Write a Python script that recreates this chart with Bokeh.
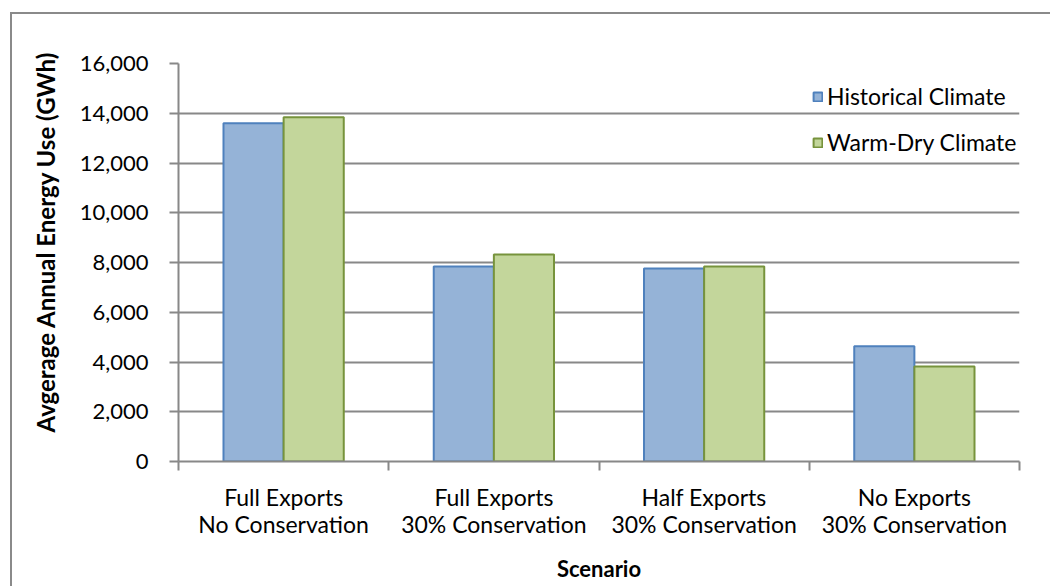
from bokeh.plotting import figure
from bokeh.models import (ColumnDataSource, FixedTicker, NumeralTickFormatter,
                          Legend, LegendItem, Range1d, Title)
from bokeh.transform import dodge
from bokeh.embed import file_html
from bokeh.resources import INLINE

categories = ["Full Exports\nNo Conservation", "Full Exports\n30% Conservation",
              "Half Exports\n30% Conservation", "No Exports\n30% Conservation"]
historical = [13600, 7840, 7760, 4630]
warm_dry = [13840, 8320, 7840, 3820]
y_ticks = [0, 2000, 4000, 6000, 8000, 10000, 12000, 14000, 16000]
series_names = ["Historical Climate", "Warm-Dry Climate"]
x_title = "Scenario"
y_title = "Avgerage Annual Energy Use (GWh)"

FONT = "Lato"
GRID = "#888888"

centers = [i + 0.5 for i in range(len(categories))]
src = ColumnDataSource(dict(x=centers, hist=historical, warm=warm_dry))

p = figure(width=1040, height=574, output_backend="svg", toolbar_location=None,
           x_range=Range1d(0, len(categories)), y_range=Range1d(0, 16000),
           min_border_left=166, min_border_right=33, min_border_top=49,
           min_border_bottom=127)
p.margin = (12, 0, 0, 10)
p.styles = {"border-left": "2px solid #8a8a8a", "border-top": "2px solid #8a8a8a"}
p.outline_line_color = None
p.background_fill_color = "white"
p.border_fill_color = "white"

r1 = p.vbar(x=dodge("x", -0.143, range=p.x_range), top="hist", width=0.286, source=src,
            fill_color="#95B3D7", line_color="#4F81BD", line_width=2)
r2 = p.vbar(x=dodge("x", 0.143, range=p.x_range), top="warm", width=0.286, source=src,
            fill_color="#C3D69B", line_color="#77933C", line_width=2)

# x axis
xa = p.xaxis[0]
xa.ticker = FixedTicker(ticks=centers, minor_ticks=list(range(len(categories) + 1)))
xa.major_label_overrides = {c: lab for c, lab in zip(centers, categories)}
xa.major_tick_out = 0
xa.major_tick_in = 0
xa.minor_tick_out = 9
xa.minor_tick_in = 0
xa.minor_tick_line_color = GRID
xa.minor_tick_line_width = 2
xa.axis_line_color = GRID
xa.axis_line_width = 2
xa.major_label_text_font = FONT
xa.major_label_text_font_size = "23px"
xa.major_label_text_color = "black"
xa.major_label_text_line_height = 0.98
xa.major_label_standoff = 12
xa.axis_label = x_title
xa.axis_label_text_font = FONT
xa.axis_label_text_font_size = "22px"
xa.axis_label_text_font_style = "bold"
xa.axis_label_text_color = "black"
xa.axis_label_standoff = 14

# y axis
ya = p.yaxis[0]
ya.ticker = FixedTicker(ticks=y_ticks)
ya.formatter = NumeralTickFormatter(format="0,0")
ya.major_tick_out = 9
ya.major_tick_in = 0
ya.minor_tick_out = 0
ya.minor_tick_in = 0
ya.major_tick_line_color = GRID
ya.major_tick_line_width = 2
ya.axis_line_color = GRID
ya.axis_line_width = 2
ya.major_label_text_font = FONT
ya.major_label_text_font_size = "22px"
ya.major_label_text_color = "black"
ya.major_label_standoff = 21

ytitle = Title(text=y_title, align="left", offset=29, standoff=33,
               text_font=FONT, text_font_size="24px", text_font_style="bold",
               text_color="black")
p.add_layout(ytitle, "left")

p.xgrid.grid_line_color = None
p.ygrid.grid_line_color = GRID
p.ygrid.grid_line_width = 2

legend = Legend(items=[LegendItem(label=series_names[0], renderers=[r1]),
                       LegendItem(label=series_names[1], renderers=[r2])],
                location=(634, 305), orientation="vertical")
legend.background_fill_alpha = 0
legend.border_line_alpha = 0
legend.label_text_font = FONT
legend.label_text_font_size = "23px"
legend.label_text_color = "black"
legend.glyph_width = 11
legend.glyph_height = 11
legend.label_standoff = 4
legend.label_height = 28
legend.spacing = 18
legend.padding = 0
legend.margin = 0
p.add_layout(legend)

open("out.html", "w").write(file_html(p, INLINE))
